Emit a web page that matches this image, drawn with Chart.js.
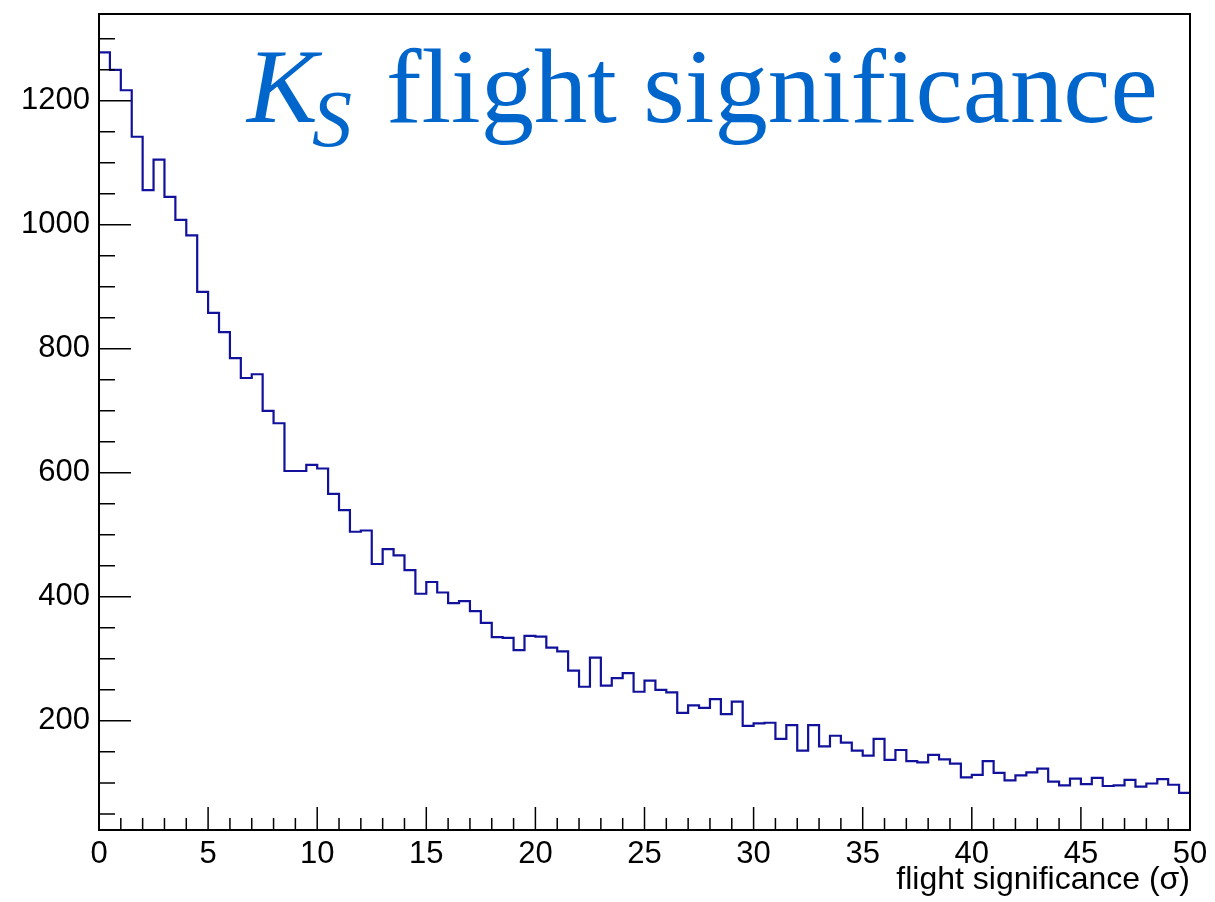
<!DOCTYPE html>
<html>
<head>
<meta charset="utf-8">
<script src="https://cdn.jsdelivr.net/npm/chart.js@4.4.0/dist/chart.umd.min.js"></script>
<style>
html,body{margin:0;padding:0;background:#ffffff;}
#wrap{width:1215px;height:902px;}
</style>
</head>
<body>
<div id="wrap"><canvas id="c" width="1215" height="902"></canvas></div>
<script>
// ---- data ----
const binWidth = 0.5;
const xMin = 0;
const xMax = 50;
const counts = [
  1278,1250,1217,1142,1056,1105,1045,1008,983,892,
  858,827,785,753,759,700,680,603,603,613,
  607,566,540,505,507,453,477,467,443,405,
  424,407,390,393,377,358,335,334,314,337,
  336,318,312,281,255,302,257,269,277,247,
  265,250,246,213,225,221,235,211,231,192,
  196,197,171,193,152,193,159,176,165,152,
  144,171,137,153,135,133,145,138,131,109,
  113,135,116,104,112,117,123,102,96,107,
  98,108,95,96,105,94,99,106,97,84
];
const xTickValues = [0,5,10,15,20,25,30,35,40,45,50];
const yTickValues = [200,400,600,800,1000,1200];
const yMin = 24;
const yMax = 1340;
const titleMain = "K";
const titleSub = "S";
const titleRest = "flight significance";
const xAxisTitle = "flight significance (\u03C3)";

// bin low edges + final upper edge
const binEdges = counts.map((_, i) => xMin + i * binWidth).concat([xMin + counts.length * binWidth]);
const points = counts.map((v, i) => ({x: binEdges[i], y: v}));
points.push({x: binEdges[counts.length], y: counts[counts.length - 1]});

const sansFont = "'Liberation Sans', Arial, Helvetica, sans-serif";
const serifFont = "'Liberation Serif', 'Times New Roman', serif";

const framePlugin = {
  id: 'frame',
  afterDatasetsDraw(chart) {
    const {ctx, chartArea: a, scales} = chart;
    ctx.save();
    ctx.strokeStyle = '#000';
    ctx.lineWidth = 1.5;
    ctx.beginPath();
    // x ticks (inward)
    for (let v = xMin; v <= xMax; v += 1) {
      const px = scales.x.getPixelForValue(v);
      const len = (v % 5 === 0) ? 23 : 12;
      ctx.moveTo(px, a.bottom);
      ctx.lineTo(px, a.bottom - len);
    }
    // y ticks (inward)
    for (let v = 50; v < yMax; v += 50) {
      if (v < yMin) continue;
      const py = scales.y.getPixelForValue(v);
      const len = (v % 200 === 0) ? 32 : 16;
      ctx.moveTo(a.left, py);
      ctx.lineTo(a.left + len, py);
    }
    ctx.stroke();
    ctx.lineWidth = 2;
    ctx.strokeRect(a.left, a.top, a.right - a.left, a.bottom - a.top);
    ctx.restore();
  },
  afterDraw(chart) {
    const {ctx} = chart;
    ctx.save();
    ctx.fillStyle = '#0066cc';
    ctx.textBaseline = 'alphabetic';
    ctx.textAlign = 'left';
    ctx.font = 'italic 106px ' + serifFont;
    ctx.fillText(titleMain, 247, 122);
    ctx.font = 'italic 80px ' + serifFont;
    ctx.fillText(titleSub, 312, 146);
    ctx.font = '106.5px ' + serifFont;
    ctx.fillText(titleRest, 386, 122);
    ctx.restore();
  }
};

new Chart(document.getElementById('c'), {
  type: 'line',
  data: {
    datasets: [{
      data: points,
      stepped: 'before',
      borderColor: '#11119c',
      borderWidth: 2.2,
      pointRadius: 0,
      fill: false,
      tension: 0
    }]
  },
  options: {
    responsive: false,
    animation: false,
    devicePixelRatio: 1,
    layout: {padding: {left: 0, right: 25, top: 14, bottom: 0}},
    plugins: {legend: {display: false}, tooltip: {enabled: false}, title: {display: false}},
    scales: {
      x: {
        type: 'linear', min: xMin, max: xMax,
        grid: {display: false, drawTicks: false},
        border: {display: false},
        afterBuildTicks: s => { s.ticks = xTickValues.map(v => ({value: v})); },
        ticks: {
          padding: 6, color: '#000', autoSkip: false, maxRotation: 0,
          font: {family: sansFont, size: 31, lineHeight: 1.2},
          callback: v => String(v)
        },
        title: {
          display: true, text: xAxisTitle, align: 'end', color: '#000',
          font: {family: sansFont, size: 32, lineHeight: 1.2},
          padding: {top: 0, bottom: 3}
        },
        afterFit: s => { s.height = 72; s.paddingLeft = 0; s.paddingRight = 0; }
      },
      y: {
        type: 'linear', min: yMin, max: yMax,
        grid: {display: false, drawTicks: false},
        border: {display: false},
        afterBuildTicks: s => { s.ticks = yTickValues.map(v => ({value: v})); },
        ticks: {
          padding: 9, color: '#000',
          font: {family: sansFont, size: 31, lineHeight: 1.2},
          callback: v => String(v)
        },
        afterFit: s => { s.width = 99; s.paddingTop = 0; s.paddingBottom = 0; }
      }
    }
  },
  plugins: [framePlugin]
});
</script>
</body>
</html>
